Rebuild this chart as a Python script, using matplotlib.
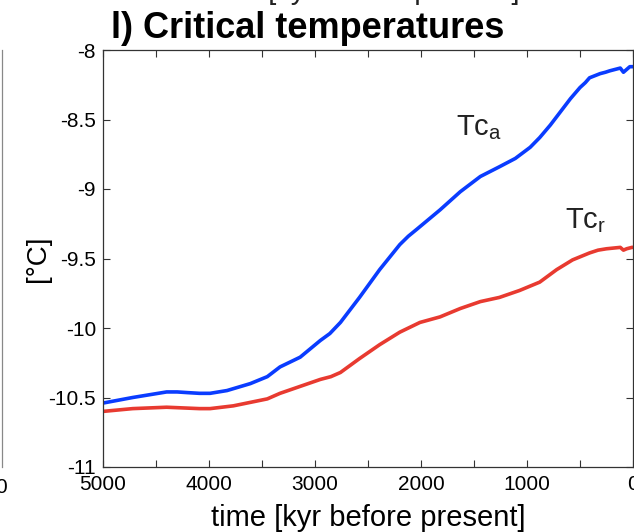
import matplotlib
matplotlib.use("Agg")
import numpy as np
from matplotlib import pyplot as plt
from matplotlib.lines import Line2D
from matplotlib.ticker import MultipleLocator, FormatStrFormatter

# time in kyr before present, temperatures in degC
time_a = [5000, 4720, 4400, 4300, 4200, 4090, 3990, 3830, 3610, 3450, 3330,
          3140, 2950, 2860, 2760, 2670, 2580, 2390, 2200, 2120, 2040, 1820,
          1630, 1440, 1260, 1110, 970, 880, 780, 690, 590, 500, 450, 410,
          360, 310, 260, 220, 120, 90, 60, 30, 0]
tc_a = [-10.54, -10.50, -10.46, -10.46, -10.465, -10.47, -10.47, -10.45,
        -10.40, -10.35, -10.28, -10.21, -10.09, -10.04, -9.96, -9.87, -9.78,
        -9.58, -9.40, -9.34, -9.29, -9.15, -9.02, -8.91, -8.84, -8.78, -8.70,
        -8.63, -8.54, -8.45, -8.35, -8.27, -8.235, -8.20, -8.185, -8.17,
        -8.16, -8.15, -8.13, -8.16, -8.14, -8.12, -8.12]

time_r = [5000, 4720, 4400, 4090, 3990, 3770, 3450, 3330, 3140, 2950, 2850,
          2760, 2670, 2580, 2390, 2200, 2010, 1820, 1630, 1440, 1260, 1070,
          880, 800, 720, 570, 410, 330, 250, 120, 90, 60, 10, 0]
tc_r = [-10.60, -10.58, -10.57, -10.58, -10.58, -10.56, -10.51, -10.47, -10.42,
        -10.37, -10.35, -10.32, -10.27, -10.22, -10.12, -10.03, -9.96, -9.92,
        -9.86, -9.81, -9.78, -9.73, -9.67, -9.625, -9.58, -9.51, -9.46,
        -9.44, -9.43, -9.42, -9.44, -9.43, -9.42, -9.42]

plt.rcParams['font.family'] = ['Liberation Sans', 'DejaVu Sans']
plt.rcParams['axes.unicode_minus'] = False
plt.rcParams['mathtext.default'] = 'regular'

fig = plt.figure(figsize=(6.34, 5.32), dpi=100)
ax = fig.add_axes([103 / 634, 1 - 467 / 532, 530 / 634, 417 / 532])

ax.plot(time_a, tc_a, color='#0a3cff', lw=2.6, solid_capstyle='round',
        solid_joinstyle='round')
ax.plot(time_r, tc_r, color='#e83a30', lw=2.6, solid_capstyle='round',
        solid_joinstyle='round')

ax.set_xlim(5000, 0)
ax.set_ylim(-11, -8)
ax.xaxis.set_major_locator(MultipleLocator(1000))
ax.xaxis.set_minor_locator(MultipleLocator(500))
ax.yaxis.set_major_locator(MultipleLocator(0.5))
ax.yaxis.set_major_formatter(FormatStrFormatter('%g'))
ax.tick_params(which='both', direction='in', top=True, right=True,
               length=5, width=0.8, color='#333333', labelsize=15)
ax.tick_params(axis='x', pad=6)
ax.tick_params(axis='y', pad=5)

for sp in ax.spines.values():
    sp.set_color('#333333')
    sp.set_linewidth(0.9)

ax.text(1670, -8.61, 'Tc$_{a}$', fontsize=21, color='#222222')
ax.text(641, -9.28, 'Tc$_{r}$', fontsize=21, color='#222222')

ax.set_xlabel('time [kyr before present]', fontsize=21, labelpad=7)
ax.set_ylabel('[\u00b0C]', fontsize=20, labelpad=-2)

fig.text(308 / 634, 1 - 38 / 532, 'l) Critical temperatures', fontsize=26,
         fontweight='bold', ha='center', va='baseline')

# bits of the neighbouring panels that are cut by the crop
fig.text(362 / 634, 1.002, 'time [kyr before present]', fontsize=21,
         ha='center', va='baseline', color='#222222')
fig.add_artist(Line2D([1.5 / 634, 1.5 / 634], [1 - 467 / 532, 1 - 50 / 532],
                      transform=fig.transFigure, color='#888888', lw=0.9))
fig.text(1.5 / 634, 1 - 493 / 532, '0', fontsize=15, ha='center',
         va='baseline')

fig.savefig('out.png', dpi=100)
